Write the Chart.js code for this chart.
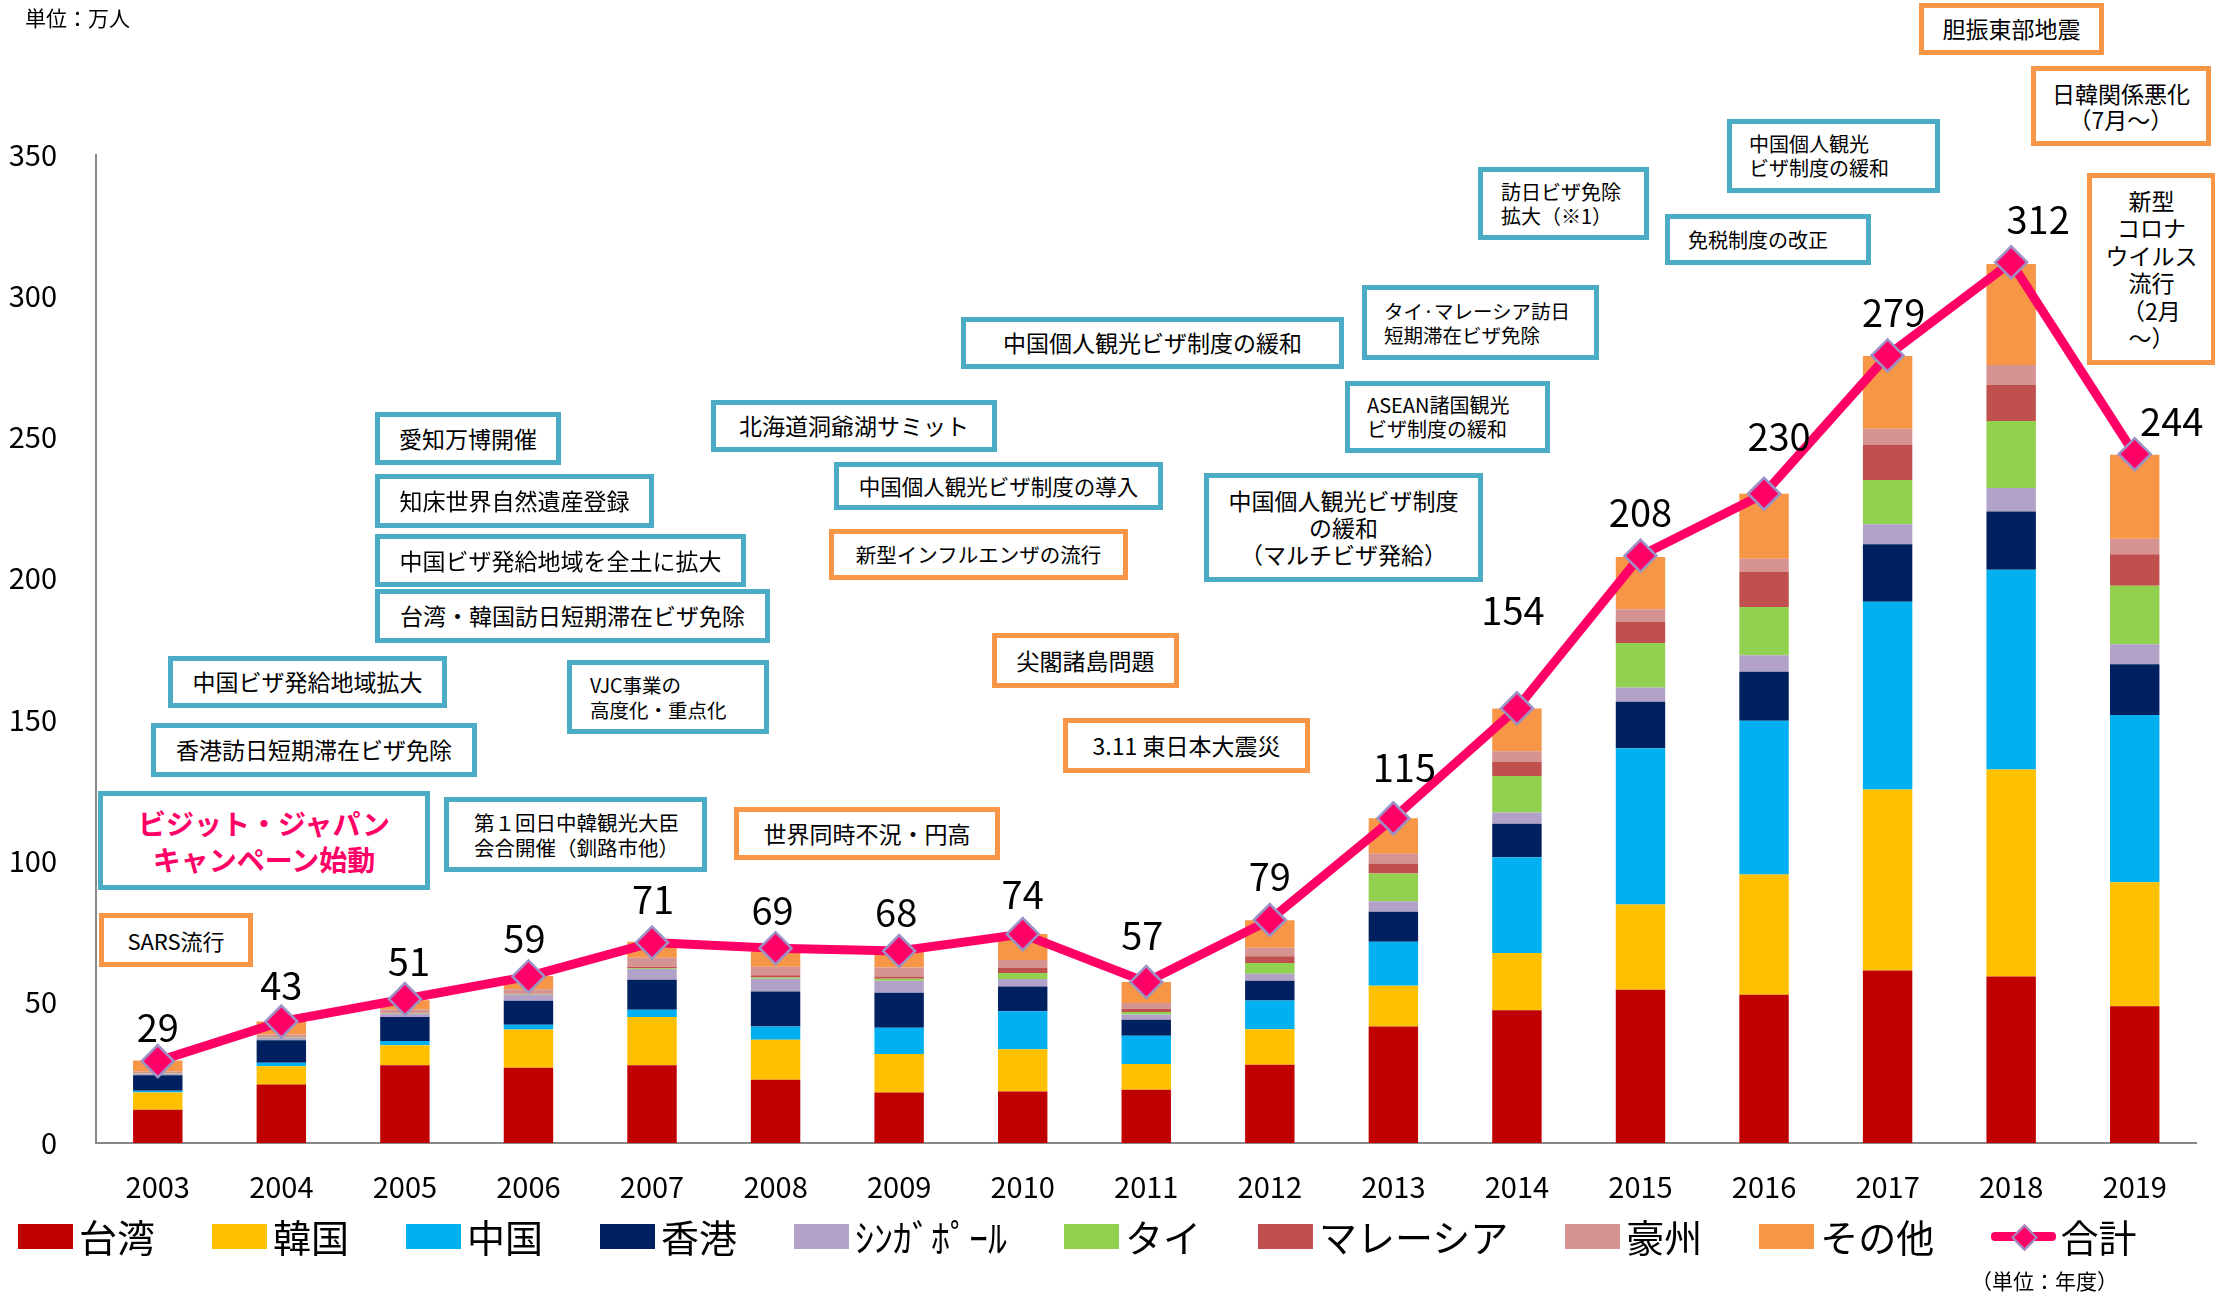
<!DOCTYPE html>
<html lang="ja">
<head>
<meta charset="utf-8">
<title>訪日外国人来道者数の推移</title>
<script src="https://cdn.jsdelivr.net/npm/chart.js@4.4.1/dist/chart.umd.min.js"></script>
<style>
  body { margin: 0; background: #fff; font-family: "Noto Sans CJK JP", sans-serif; color: #000; }
  #wrap { position: relative; width: 2215px; height: 1295px; overflow: hidden; }
  #chart { position: absolute; left: 0; top: 0; }
  .note { position: absolute; box-sizing: border-box; background: #fff; border: 5px solid #4BACC6;
          display: flex; flex-direction: column; justify-content: center; align-items: center;
          text-align: center; font-size: 23px; line-height: 1.2; white-space: nowrap; }
  .note.orange { border-color: #F79646; }
  .note.left { align-items: flex-start; text-align: left; }
  .unit { position: absolute; font-size: 21px; white-space: nowrap; }
  #legend { position: absolute; left: 18px; top: 1212px; display: flex; align-items: center; gap: 57px; }
  .item { display: flex; align-items: center; font-size: 38px; line-height: 48px; white-space: nowrap; }
  .swatch { width: 55px; height: 25px; margin-right: 6px; }
  .lineicon { position: relative; width: 65px; height: 25px; margin-right: 4px; }
  .lineicon .bar { position: absolute; left: 0; top: 8px; width: 65px; height: 9px; background: #FF0066; border-radius: 4px; }
  .lineicon .dia { position: absolute; left: 24px; top: 4px; width: 15px; height: 15px; background: #FF0066;
                   border: 2px solid #9B93C6; transform: rotate(45deg); }
</style>
</head>
<body>
<div id="wrap">
  <canvas id="chart" width="2215" height="1295"></canvas>

  <div class="unit" style="left:25px; top:2px;">単位：万人</div>
  <div class="unit" style="left:1971px; top:1265px;">（単位：年度）</div>

  <!-- 出来事の注記 -->
  <div class="note orange" style="left:99px; top:913px; width:154px; height:54px; font-size:22px;">SARS流行</div>
  <div class="note" style="left:98px; top:791px; width:332px; height:99px; font-size:28px; font-weight:bold; color:#FF0066; line-height:36px;">ビジット・ジャパン<br>キャンペーン始動</div>
  <div class="note" style="left:151px; top:723px; width:326px; height:54px;">香港訪日短期滞在ビザ免除</div>
  <div class="note" style="left:168px; top:656px; width:279px; height:52px;">中国ビザ発給地域拡大</div>
  <div class="note" style="left:375px; top:589px; width:395px; height:54px;">台湾・韓国訪日短期滞在ビザ免除</div>
  <div class="note" style="left:375px; top:534px; width:371px; height:53px;">中国ビザ発給地域を全土に拡大</div>
  <div class="note" style="left:375px; top:474px; width:279px; height:54px;">知床世界自然遺産登録</div>
  <div class="note" style="left:375px; top:412px; width:186px; height:53px;">愛知万博開催</div>
  <div class="note left" style="left:567px; top:660px; width:202px; height:74px; font-size:19.5px; line-height:25px; padding-left:18px;">VJC事業の<br>高度化・重点化</div>
  <div class="note left" style="left:444px; top:797px; width:263px; height:75px; font-size:20.5px; line-height:25px; padding-left:25px;">第１回日中韓観光大臣<br>会合開催（釧路市他）</div>
  <div class="note orange" style="left:734px; top:807px; width:266px; height:53px;">世界同時不況・円高</div>
  <div class="note orange" style="left:1063px; top:718px; width:247px; height:55px;">3.11 東日本大震災</div>
  <div class="note orange" style="left:992px; top:633px; width:187px; height:55px;">尖閣諸島問題</div>
  <div class="note orange" style="left:829px; top:529px; width:299px; height:51px; font-size:20.5px;">新型インフルエンザの流行</div>
  <div class="note" style="left:834px; top:462px; width:329px; height:48px; font-size:21.5px;">中国個人観光ビザ制度の導入</div>
  <div class="note" style="left:1204px; top:473px; width:279px; height:109px; font-size:23px; line-height:27px;">中国個人観光ビザ制度<br>の緩和<br>（マルチビザ発給）</div>
  <div class="note" style="left:711px; top:400px; width:286px; height:52px;">北海道洞爺湖サミット</div>
  <div class="note" style="left:961px; top:317px; width:383px; height:52px;">中国個人観光ビザ制度の緩和</div>
  <div class="note left" style="left:1362px; top:285px; width:237px; height:75px; font-size:19.5px; line-height:24px; padding-left:17px;">タイ·マレーシア訪日<br>短期滞在ビザ免除</div>
  <div class="note left" style="left:1345px; top:381px; width:205px; height:72px; font-size:20px; line-height:24px; padding-left:17px;">ASEAN諸国観光<br>ビザ制度の緩和</div>
  <div class="note left" style="left:1478px; top:167px; width:171px; height:73px; font-size:20px; line-height:24px; padding-left:18px;">訪日ビザ免除<br>拡大（※1）</div>
  <div class="note left" style="left:1727px; top:119px; width:213px; height:74px; font-size:20px; line-height:24px; padding-left:17px;">中国個人観光<br>ビザ制度の緩和</div>
  <div class="note left" style="left:1665px; top:214px; width:206px; height:51px; font-size:20px; padding-left:18px;">免税制度の改正</div>
  <div class="note orange" style="left:1919px; top:3px; width:185px; height:52px;">胆振東部地震</div>
  <div class="note orange" style="left:2031px; top:66px; width:180px; height:80px; line-height:26px;">日韓関係悪化<br>（7月～）</div>
  <div class="note orange" style="left:2087px; top:173px; width:129px; height:192px; line-height:27.5px;">新型<br>コロナ<br>ウイルス<br>流行<br>（2月<br>～）</div>

  <div id="legend"></div>
</div>

<script>
// 年度
const years = ['2003', '2004', '2005', '2006', '2007', '2008', '2009', '2010', '2011',
               '2012', '2013', '2014', '2015', '2016', '2017', '2018', '2019'];

// 国・地域別 来道者数（万人）
const taiwan    = [11.8, 20.7, 27.5, 26.7, 27.5, 22.4, 17.9, 18.2, 18.9, 27.7, 41.3, 47.0, 54.3, 52.5, 61.1, 59.0, 48.4];
const korea     = [6.1, 6.5, 7.1, 13.5, 17.1, 14.2, 13.6, 15.0, 9.1, 12.6, 14.4, 20.3, 30.2, 42.6, 64.1, 73.3, 44.0];
const china     = [0.6, 1.2, 1.5, 1.7, 2.6, 4.7, 9.3, 13.5, 10.0, 10.2, 15.6, 33.9, 55.3, 54.5, 66.5, 70.8, 59.2];
const hongkong  = [5.5, 8.0, 8.5, 8.5, 10.6, 12.4, 12.4, 8.7, 5.7, 7.0, 10.6, 11.9, 16.5, 17.3, 20.4, 20.6, 18.0];
const singapore = [0.5, 0.8, 1.2, 2.1, 3.8, 4.5, 4.3, 2.7, 1.8, 2.5, 3.7, 4.0, 5.1, 5.9, 7.1, 8.3, 7.1];
const thai      = [0.2, 0.2, 0.2, 0.2, 0.3, 0.4, 0.7, 2.1, 0.9, 3.8, 9.9, 12.9, 15.7, 17.1, 15.7, 23.8, 20.7];
const malaysia  = [0.1, 0.1, 0.1, 0.2, 0.5, 0.8, 0.8, 1.9, 1.2, 2.4, 3.5, 5.1, 7.5, 12.4, 12.4, 12.7, 11.2];
const australia = [0.5, 0.9, 1.2, 1.6, 3.2, 3.0, 3.2, 2.7, 2.0, 3.0, 3.5, 3.7, 4.5, 4.7, 5.7, 7.1, 5.5];
const others    = [3.9, 4.6, 3.3, 4.7, 5.7, 5.7, 5.5, 9.2, 7.4, 9.7, 12.5, 15.1, 18.5, 23.0, 25.8, 35.8, 29.7];
const totals    = [29, 43, 51, 59, 71, 69, 68, 74, 57, 79, 115, 154, 208, 230, 279, 312, 244];

// 目盛り
const yTicks = [0, 50, 100, 150, 200, 250, 300, 350];

// 合計ラベルのずらし量 [右, 上] (px)
const labelShift = [[0,34],[0,36],[4,37],[-4,38],[1,43],[-3,38],[-3,38],[0,40],[-4,47],
                    [0,43],[11,51],[-4,98],[0,43],[15,57],[6,43],[27,43],[37,33]];

const FONT = '"Noto Sans CJK JP", sans-serif';

const barSet = (label, data, color) => ({
    type: 'bar',
    label: label,
    data: data,
    backgroundColor: color,
    borderWidth: 0,
    barPercentage: 0.4,
    categoryPercentage: 1.0,
    order: 1
});

// 合計の数字を描く
const totalLabels = {
    id: 'totalLabels',
    afterDatasetsDraw(chart) {
        const meta = chart.getDatasetMeta(chart.data.datasets.length - 1);
        const ctx = chart.ctx;
        ctx.save();
        ctx.font = '38px ' + FONT;
        ctx.fillStyle = '#000';
        ctx.textAlign = 'center';
        ctx.textBaseline = 'middle';
        meta.data.forEach((pt, i) => {
            const [dx, dy] = labelShift[i];
            ctx.fillText(String(totals[i]), pt.x + dx, pt.y - dy);
        });
        ctx.restore();
    }
};

const chart = new Chart(document.querySelector('#chart').getContext('2d'), {
    data: {
        labels: years,
        datasets: [
            barSet('台湾', taiwan, '#C00000'),
            barSet('韓国', korea, '#FFC000'),
            barSet('中国', china, '#00B0F0'),
            barSet('香港', hongkong, '#002060'),
            barSet('ｼﾝｶﾞﾎﾟｰﾙ', singapore, '#B2A2C7'),
            barSet('タイ', thai, '#92D050'),
            barSet('マレーシア', malaysia, '#C0504D'),
            barSet('豪州', australia, '#D59392'),
            barSet('その他', others, '#F79646'),
            {
                type: 'line',
                label: '合計',
                data: totals,
                borderColor: '#FF0066',
                borderWidth: 9,
                tension: 0,
                pointStyle: 'rectRot',
                pointRadius: 16,
                pointBackgroundColor: '#FF0066',
                pointBorderColor: '#9B93C6',
                pointBorderWidth: 2.5,
                order: 0
            }
        ]
    },
    options: {
        responsive: false,
        animation: false,
        devicePixelRatio: 1,
        layout: { padding: { left: 3, right: 17, top: 155, bottom: 92 } },
        plugins: {
            legend: { display: false },
            tooltip: { enabled: false }
        },
        scales: {
            x: {
                stacked: true,
                grid: { display: false, drawTicks: false },
                border: { display: true, color: '#898989', width: 2 },
                ticks: { color: '#000', font: { family: FONT, size: 29 }, padding: 27, maxRotation: 0 },
                afterFit(scale) { scale.height = 60; }
            },
            y: {
                stacked: true,
                min: 0,
                max: 350,
                grid: { display: false, drawTicks: false },
                border: { display: true, color: '#898989', width: 2 },
                ticks: { color: '#000', font: { family: FONT, size: 29 }, padding: 39, stepSize: 50 },
                afterBuildTicks(scale) { scale.ticks = yTicks.map(v => ({ value: v })); },
                afterFit(scale) { scale.width = 93; }
            }
        }
    },
    plugins: [totalLabels]
});

// 凡例
const legend = document.querySelector('#legend');
chart.data.datasets.forEach(ds => {
    const item = document.createElement('div');
    item.className = 'item';
    if (ds.type === 'line') {
        item.innerHTML = '<span class="lineicon"><span class="bar"></span><span class="dia"></span></span>';
    } else {
        item.innerHTML = '<span class="swatch" style="background:' + ds.backgroundColor + '"></span>';
    }
    item.appendChild(document.createTextNode(ds.label));
    legend.appendChild(item);
});
</script>
</body>
</html>
